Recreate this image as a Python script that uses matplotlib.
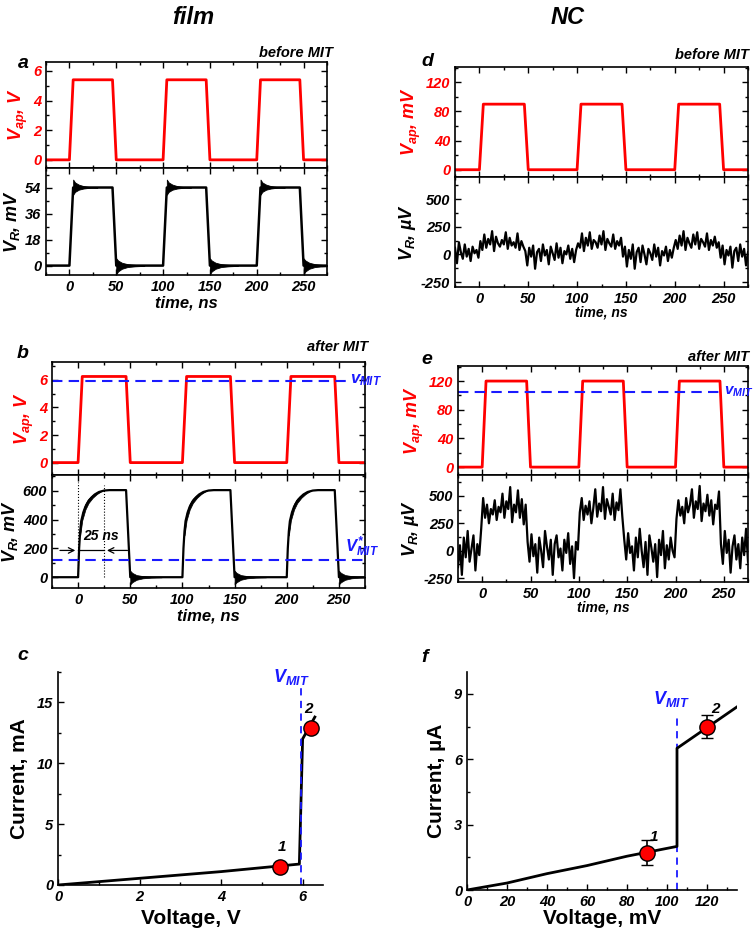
import numpy as np
import matplotlib
matplotlib.use("Agg")
import matplotlib.pyplot as plt
from matplotlib.ticker import MultipleLocator

plt.rcParams['font.family'] = ['Liberation Sans', 'DejaVu Sans']
plt.rcParams['font.weight'] = 'bold'
plt.rcParams['mathtext.fontset'] = 'custom'
plt.rcParams['mathtext.it'] = 'Liberation Sans:bold:italic'
plt.rcParams['mathtext.rm'] = 'Liberation Sans:bold:italic'
plt.rcParams['mathtext.bf'] = 'Liberation Sans:bold:italic'
plt.rcParams['axes.linewidth'] = 1.2
plt.rcParams['axes.unicode_minus'] = False

RED = '#ff0000'
BLUE = '#1a1aff'

# ---------------- data ----------------
periods = [0, 100, 200]
# applied pulses (time ns, value)
pulse_t = [-25, 0, 4, 46, 50, 100, 104, 146, 150, 200, 204, 246, 250, 275]
pulse_on = [0, 0, 1, 1, 0, 0, 1, 1, 0, 0, 1, 1, 0, 0]
vap_a = 5.4     # V
vap_b = 6.25    # V
vap_d = 90      # mV
vap_e = 120     # mV
vmit_b = 5.95   # V
vmit_e = 105    # mV
vmit_star_b = 122  # mV

# film VR before MIT (mV)
vr_a_level = 54
ring_rise_t = [4, 6, 10, 15, 20, 25, 30]
ring_rise_up = [59.5, 57.5, 56, 55, 54.5, 54.2, 54]
ring_rise_lo = [49, 51, 52.5, 53.3, 53.7, 53.9, 54]
ring_fall_t = [50, 52, 56, 62, 70, 80]
ring_fall_up = [5, 3.5, 2, 1, 0.5, 0.2]
ring_fall_lo = [-6, -4, -2.2, -1, -0.5, -0.2]

# film VR after MIT (mV), one period
vr_b_t = [0, 1, 2, 3, 5, 7, 10, 13, 16, 20, 25, 30, 46, 50]
vr_b_v = [0, 200, 320, 390, 450, 490, 530, 555, 575, 592, 602, 605, 605, 0]
band_b_t = [2, 4, 7, 10, 14, 18, 22]
band_b_hw = [30, 25, 20, 15, 10, 6, 0]
ring_b_t = [50, 52, 56, 62, 70, 80]
ring_b_up = [45, 30, 15, 8, 3, 1]
ring_b_lo = [-50, -35, -18, -8, -3, -1]

# NC VR traces (uV), sampled every 2 ns from -25 ns
nc_t = np.arange(-25, 276, 2)
vr_d = [60, -80, 110, 20, -40, 90, -20, 50, -60, 70, 10, 40, -30,
        120, 40, 180, 60, 140, 90, 210, 30, 160, 100, 70, 130, 90, 200, 50, 150, 80, 110, 60, 190, 40, 120, 70,
        30, -100, 60, -20, 80, -130, 20, 50, -60, 90, -10, 40, -90, 70, 10, -50, 100, -30, 60, -80, 30, 0, 80, -40, 50, -70, 40,
        100, 60, 190, 30, 150, 80, 200, 50, 130, 110, 60, 170, 90, 210, 40, 140, 100, 70, 180, 50, 120, 80, 150,
        -20, 70, -110, 40, -40, 90, -130, 20, 60, -70, 80, 0, -90, 50, 10, -50, 90, -20, 60, -100, 30, -10, 70, -60, 40, -30, 60,
        130, 50, 170, 80, 210, 40, 150, 100, 60, 180, 90, 200, 50, 140, 110, 70, 190, 40, 130, 80, 160, 60, 110,
        -30, 80, -90, 40, -10, 70, -120, 30, 60, -60, 90, -20, 50, -100, 20]
vr_e = [-150, 50, -220, 120, -60, 180, -100, 20, 140, -180, 60, -40, 200,
        480, 300, 420, 250, 380, 330, 460, 280, 400, 350, 520, 300, 450, 380, 580, 260, 420, 350, 550, 300, 470, 240, 420,
        80, -100, 150, -50, 60, -200, 120, 0, -150, 180, 40, -80, 100, -220, 60, 140, -60, 20, -180, 100, -20, 160, -120, 40, -250, 80, 10,
        350, 480, 280, 410, 330, 450, 250, 390, 560, 310, 430, 360, 580, 290, 470, 400, 330, 520, 280, 440, 370, 560, 310,
        100, -80, 160, -20, 40, -180, 120, -60, 200, 0, -150, 80, -220, 140, 30, -100, 60, -240, 100, -40, 180, -160, 50, -80, 120, 0, -60,
        290, 460, 320, 400, 250, 480, 350, 420, 560, 300, 450, 380, 590, 270, 430, 360, 510, 320, 460, 240, 420, 380, 540,
        60, -120, 180, -20, 100, -200, 40, 140, -80, 60, -160, 120, -40, 200, -100]

# I-V curves
iv_c_v = [0, 2, 4, 5.92, 6.0, 6.2, 6.3]
iv_c_i = [0, 0.55, 1.1, 1.72, 12.0, 13.2, 13.8]
pts_c_v = [5.45, 6.2]
pts_c_i = [1.45, 12.9]
vmit_c = 5.97

iv_f_v = [0, 20, 40, 60, 80, 105, 105, 120, 135]
iv_f_i = [0, 0.32, 0.75, 1.12, 1.55, 2.0, 6.5, 7.45, 8.4]
pts_f_v = [90, 120]
pts_f_i = [1.72, 7.5]
pts_f_err = [0.58, 0.55]
vmit_f = 105

# ---------------- figure ----------------
W, H = 756, 934
fig = plt.figure(figsize=(W / 100, H / 100), dpi=100)


def ax_at(x0, y0, x1, y1):
    return fig.add_axes([x0 / W, 1 - y1 / H, (x1 - x0) / W, (y1 - y0) / H])


TICKFS = 10.5


def italic_ticks(ax):
    for lab in ax.get_yticklabels() + ax.get_xticklabels():
        lab.set_fontstyle('italic')
        lab.set_fontweight('bold')


def style(ax, xmaj, xmin, ymaj, ymin, color='black', allsides=True):
    ax.xaxis.set_major_locator(MultipleLocator(xmaj))
    ax.xaxis.set_minor_locator(MultipleLocator(xmin))
    ax.yaxis.set_major_locator(MultipleLocator(ymaj))
    ax.yaxis.set_minor_locator(MultipleLocator(ymin))
    ax.tick_params(which='both', direction='in', top=allsides, right=allsides, width=1.0)
    ax.tick_params(which='major', length=4)
    ax.tick_params(which='minor', length=2)
    ax.tick_params(axis='y', labelcolor=color, labelsize=TICKFS)
    ax.tick_params(axis='x', labelsize=TICKFS)
    italic_ticks(ax)


pt = np.array(pulse_t, dtype=float)
pon = np.array(pulse_on, dtype=float)
LBL = dict(fontsize=13, fontweight='bold', fontstyle='italic')


def pulse_panel(ax, level, ylim, ymaj, ymin, ylabel):
    ax.plot(pt, pon * level, color=RED, lw=2.0)
    ax.set_xlim(-25, 275)
    ax.set_ylim(*ylim)
    style(ax, 50, 25, ymaj, ymin, color=RED)
    ax.set_xticklabels([])
    ax.set_ylabel(ylabel, color=RED, labelpad=2, **LBL)
    italic_ticks(ax)


# ---- panel a ----
axa1 = ax_at(46, 62, 327, 168)
pulse_panel(axa1, vap_a, (-0.55, 6.6), 2, 1, r'$V_{ap}$, V')
axa2 = ax_at(46, 168, 327, 275)
vr_a_t = pulse_t
vr_a_v = [v * vr_a_level for v in pulse_on]
axa2.plot(vr_a_t, vr_a_v, color='black', lw=1.8)
for p in periods:
    axa2.fill_between(np.array(ring_rise_t) + p, ring_rise_lo, ring_rise_up, color='black', lw=0.6)
    axa2.fill_between(np.array(ring_fall_t) + p, ring_fall_lo, ring_fall_up, color='black', lw=0.6)
axa2.set_xlim(-25, 275)
axa2.set_ylim(-6.5, 67.5)
style(axa2, 50, 25, 18, 9)
axa2.set_ylabel(r'$V_R$, mV', labelpad=2, **LBL)
axa2.set_xlabel('time, ns', fontsize=12, fontweight='bold', fontstyle='italic', labelpad=1)
italic_ticks(axa2)

# ---- panel b ----
axb1 = ax_at(52, 362, 365, 475)
pulse_panel(axb1, vap_b, (-0.9, 7.3), 2, 1, r'$V_{ap}$, V')
axb1.plot([-25, 258], [vmit_b, vmit_b], color=BLUE, lw=1.5, ls=(0, (5, 3)))
axb1.text(261, vmit_b, r'$v_{MIT}$', color=BLUE, fontsize=12, va='center', ha='left', clip_on=False)
axb2 = ax_at(52, 475, 365, 588)
tb, vb = [], []
for p in periods:
    tb += [t + p for t in vr_b_t]
    vb += vr_b_v
tb = [-25] + tb + [275]
vb = [0] + vb + [0]
axb2.plot(tb, vb, color='black', lw=1.6)
rise_t = np.array(band_b_t, dtype=float)
rise_mid = np.interp(rise_t, vr_b_t, vr_b_v)
for p in periods:
    axb2.fill_between(rise_t + p, rise_mid - np.array(band_b_hw), rise_mid + np.array(band_b_hw),
                      color='black', lw=0.5)
    axb2.fill_between(np.array(ring_b_t) + p, ring_b_lo, ring_b_up, color='black', lw=0.5)
axb2.plot([-25, 275], [vmit_star_b, vmit_star_b], color=BLUE, lw=1.5, ls=(0, (5, 3)))
axb2.text(256, 210, r'$V^{*}_{MIT}$', color=BLUE, fontsize=12, va='center', ha='left', clip_on=False)
axb2.plot([0, 0], [0, 660], color='black', lw=0.8, ls=':')
axb2.plot([25, 25], [0, 640], color='black', lw=0.8, ls=':')
axb2.annotate('', xy=(0, 186), xytext=(-20, 186), arrowprops=dict(arrowstyle='->', color='black', lw=0.9))
axb2.annotate('', xy=(25, 186), xytext=(50, 186), arrowprops=dict(arrowstyle='->', color='black', lw=0.9))
axb2.plot([0, 25], [186, 186], color='black', lw=0.9)
axb2.text(22, 285, '25 ns', fontsize=10, fontweight='bold', fontstyle='italic', ha='center', va='center')
axb2.set_xlim(-25, 275)
axb2.set_ylim(-75, 710)
style(axb2, 50, 25, 200, 100)
axb2.set_ylabel(r'$V_R$, mV', labelpad=2, **LBL)
axb2.set_xlabel('time, ns', fontsize=12, fontweight='bold', fontstyle='italic', labelpad=1)
italic_ticks(axb2)

# ---- panel d ----
axd1 = ax_at(455, 67, 748, 177)
pulse_panel(axd1, vap_d, (-10, 141), 40, 20, r'$V_{ap}$, mV')
axd2 = ax_at(455, 177, 748, 287)
axd2.plot(nc_t, vr_d, color='black', lw=1.6)
axd2.set_xlim(-25, 275)
axd2.set_ylim(-295, 700)
style(axd2, 50, 25, 250, 125)
axd2.set_ylabel(r'$V_R$, µV', labelpad=2, **LBL)
axd2.set_xlabel('time, ns', fontsize=10, fontweight='bold', fontstyle='italic', labelpad=0)
italic_ticks(axd2)

# ---- panel e ----
axe1 = ax_at(458, 366, 748, 475)
pulse_panel(axe1, vap_e, (-11, 141), 40, 20, r'$V_{ap}$, mV')
axe1.plot([-25, 247], [vmit_e, vmit_e], color=BLUE, lw=1.5, ls=(0, (5, 3)))
axe1.text(250, vmit_e, r'$v_{MIT}$', color=BLUE, fontsize=11, va='center', ha='left', clip_on=False)
axe2 = ax_at(458, 475, 748, 582)
axe2.plot(nc_t, vr_e, color='black', lw=1.6)
axe2.set_xlim(-25, 275)
axe2.set_ylim(-285, 690)
style(axe2, 50, 25, 250, 125)
axe2.set_ylabel(r'$V_R$, µV', labelpad=2, **LBL)
axe2.set_xlabel('time, ns', fontsize=10, fontweight='bold', fontstyle='italic', labelpad=0)
italic_ticks(axe2)

# ---- panel c ----
axc = ax_at(58, 672, 323, 885)
axc.plot(iv_c_v, iv_c_i, color='black', lw=2.0)
axc.plot([vmit_c, vmit_c], [0, 16.2], color=BLUE, lw=1.3, ls=(0, (4, 3)))
axc.plot(pts_c_v, pts_c_i, 'o', ms=11, mfc=RED, mec='black', mew=1.0)
axc.text(5.72, 17.1, r'$V_{MIT}$', color=BLUE, fontsize=13, ha='center', va='center')
axc.text(5.5, 3.1, '1', fontsize=11, fontweight='bold', fontstyle='italic', ha='center', va='center')
axc.text(6.14, 14.5, '2', fontsize=11, fontweight='bold', fontstyle='italic', ha='center', va='center')
axc.set_xlim(0, 6.5)
axc.set_ylim(0, 17.5)
for s in ['top', 'right']:
    axc.spines[s].set_visible(False)
style(axc, 2, 1, 5, 2.5, allsides=False)
axc.set_xlabel('Voltage, V', fontsize=15, fontweight='bold', labelpad=4)
axc.set_ylabel('Current, mA', fontsize=15, fontweight='bold', labelpad=6)
italic_ticks(axc)

# ---- panel f ----
axf = ax_at(467, 672, 737, 890)
axf.plot([vmit_f, vmit_f], [0, 8.0], color=BLUE, lw=1.3, ls=(0, (4, 3)), zorder=1)
axf.plot(iv_f_v, iv_f_i, color='black', lw=2.0, zorder=2)
axf.errorbar(pts_f_v, pts_f_i, yerr=pts_f_err, fmt='o', ms=11, mfc=RED, mec='black', mew=1.0,
             ecolor='black', elinewidth=1.2, capsize=4, capthick=1.2, zorder=3)
axf.text(102, 8.75, r'$V_{MIT}$', color=BLUE, fontsize=13, ha='center', va='center')
axf.text(93.5, 2.45, '1', fontsize=11, fontweight='bold', fontstyle='italic', ha='center', va='center')
axf.text(124, 8.3, '2', fontsize=11, fontweight='bold', fontstyle='italic', ha='center', va='center')
axf.set_xlim(0, 135)
axf.set_ylim(0, 10)
for s in ['top', 'right']:
    axf.spines[s].set_visible(False)
style(axf, 20, 10, 3, 1.5, allsides=False)
axf.set_xlabel('Voltage, mV', fontsize=15, fontweight='bold', labelpad=0)
axf.set_ylabel('Current, µA', fontsize=15, fontweight='bold', labelpad=6)
italic_ticks(axf)

# ---- titles and letters ----
def ftxt(x, y, s, **kw):
    fig.text(x / W, 1 - y / H, s, **kw)

ftxt(193, 18, 'film', fontsize=17, fontweight='bold', fontstyle='italic', ha='center', va='center')
ftxt(568, 18, 'NC', fontsize=17, fontweight='bold', fontstyle='italic', ha='center', va='center')
for x, y, s in [(23, 64, 'a'), (427, 62, 'd'), (23, 353, 'b'), (427, 360, 'e'), (23, 655, 'c'), (425, 658, 'f')]:
    ftxt(x, y, s, fontsize=14, fontweight='bold', fontstyle='italic', ha='center', va='center')
for x, y, s in [(333, 53, 'before MIT'), (749, 55, 'before MIT'), (368, 347, 'after MIT'), (749, 357, 'after MIT')]:
    ftxt(x, y, s, fontsize=10.5, fontweight='bold', fontstyle='italic', ha='right', va='center')

fig.savefig('out.png', dpi=100)
